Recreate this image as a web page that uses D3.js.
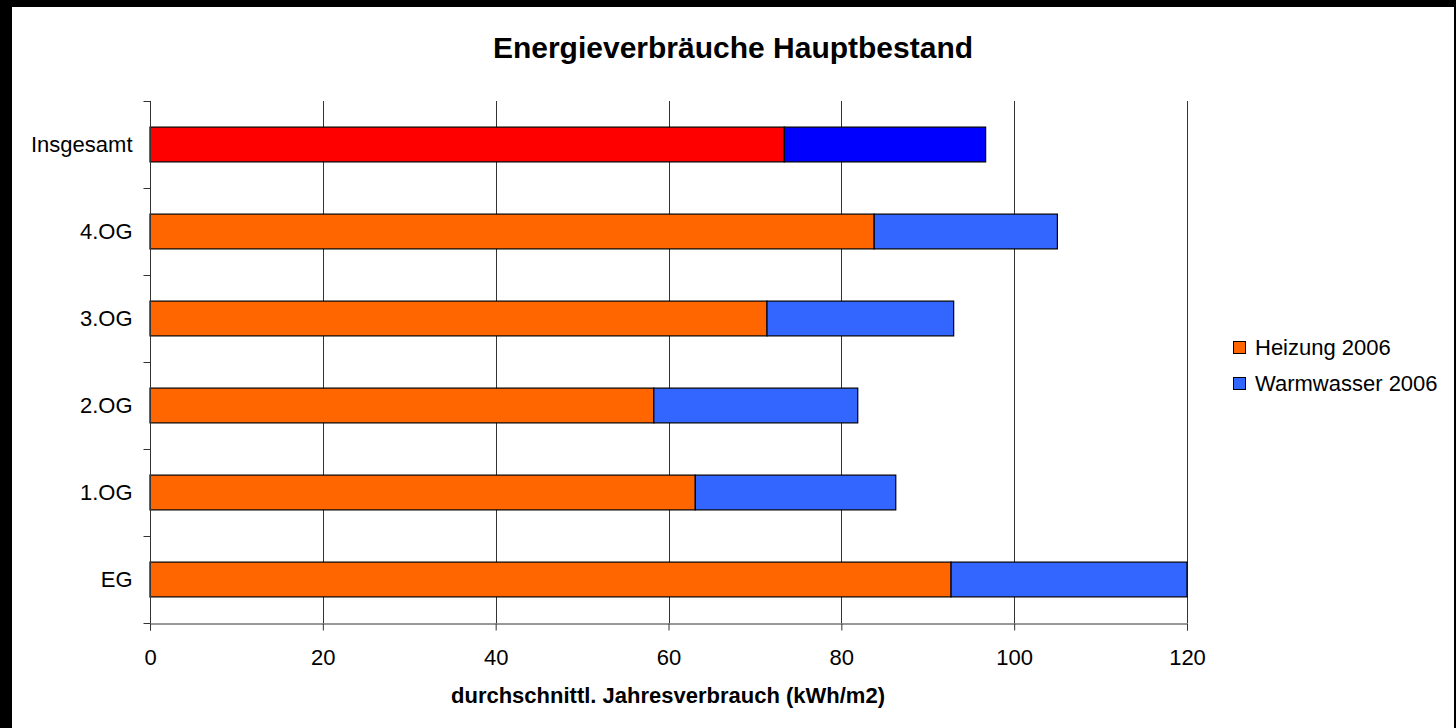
<!DOCTYPE html>
<html>
<head>
<meta charset="utf-8">
<script src="https://cdn.jsdelivr.net/npm/d3@7"></script>
<style>
  html, body { margin: 0; padding: 0; background: #000; }
  svg { display: block; }
  text { font-family: "Liberation Sans", Arial, sans-serif; fill: #000; }
</style>
</head>
<body>
<svg id="chart"></svg>
<script>
const categories = ['EG', '1.OG', '2.OG', '3.OG', '4.OG', 'Insgesamt'];
const heizung = [92.7, 63.1, 58.3, 71.4, 83.8, 73.4];
const warmwasser = [27.3, 23.2, 23.6, 21.6, 21.2, 23.3];
const xTicks = [0, 20, 40, 60, 80, 100, 120];
const seriesNames = ['Heizung 2006', 'Warmwasser 2006'];
const seriesColors = ['#FF6600', '#3366FF'];
const totalColors = ['#FF0000', '#0000FF'];

const W = 1456, H = 728;
const margin = { top: 101, right: 269, bottom: 105, left: 150 };
const width = W - margin.left - margin.right;
const height = H - margin.top - margin.bottom;

const svg = d3.select('#chart').attr('width', W).attr('height', H);

// white chart area inside black frame
svg.append('rect')
    .attr('x', 12).attr('y', 7)
    .attr('width', W - 14).attr('height', H - 7)
    .attr('fill', '#fff');

const g = svg.append('g').attr('transform', `translate(${margin.left},${margin.top})`);

const x = d3.scaleLinear().domain([0, 120]).range([0, width]);
const y = d3.scaleBand().domain(categories.slice().reverse()).range([0, height]).paddingInner(0.6).paddingOuter(0.3);

// gridlines
g.append('g')
    .selectAll('line')
    .data(xTicks.slice(1))
    .join('line')
    .attr('x1', d => Math.round(x(d)) + 0.5)
    .attr('x2', d => Math.round(x(d)) + 0.5)
    .attr('y1', 0).attr('y2', height)
    .attr('stroke', '#333').attr('stroke-width', 1);

const data = categories.map((c, i) => ({ name: c, h: heizung[i], w: warmwasser[i], total: c === 'Insgesamt' }));

const bars = g.append('g');
bars.selectAll('.heiz')
    .data(data)
    .join('rect')
    .attr('class', 'heiz')
    .attr('x', x(0))
    .attr('y', d => y(d.name))
    .attr('width', d => x(d.h) - x(0))
    .attr('height', y.bandwidth())
    .attr('fill', d => d.total ? totalColors[0] : seriesColors[0])
    .attr('stroke', '#000').attr('stroke-width', 1.2);

bars.selectAll('.ww')
    .data(data)
    .join('rect')
    .attr('class', 'ww')
    .attr('x', d => x(d.h))
    .attr('y', d => y(d.name))
    .attr('width', d => x(d.h + d.w) - x(d.h))
    .attr('height', y.bandwidth())
    .attr('fill', d => d.total ? totalColors[1] : seriesColors[1])
    .attr('stroke', '#000').attr('stroke-width', 1.2);

// x axis
const xAxis = g.append('g')
    .attr('transform', `translate(0,${height + 0.5})`)
    .call(d3.axisBottom(x).tickValues(xTicks).tickSize(7).tickPadding(19));
xAxis.select('.domain').attr('stroke', '#333');
xAxis.selectAll('.tick line').attr('stroke', '#333');
xAxis.selectAll('.tick text').attr('font-size', 22).attr('fill', '#000');

// y axis with ticks between categories
const yAxisG = g.append('g').attr('transform', 'translate(0.5,0)');
yAxisG.append('line')
    .attr('x1', 0).attr('x2', 0).attr('y1', 0).attr('y2', height)
    .attr('stroke', '#333');
const boundaries = d3.range(categories.length + 1).map(i => i * height / categories.length);
yAxisG.selectAll('.ytick')
    .data(boundaries)
    .join('line')
    .attr('x1', -7).attr('x2', 0)
    .attr('y1', d => Math.round(d) + 0.5).attr('y2', d => Math.round(d) + 0.5)
    .attr('stroke', '#333');
yAxisG.selectAll('.ylabel')
    .data(categories)
    .join('text')
    .attr('x', -18)
    .attr('y', d => y(d) + y.bandwidth() / 2)
    .attr('dy', '0.35em')
    .attr('text-anchor', 'end')
    .attr('font-size', 22)
    .text(d => d);

// titles
svg.append('text')
    .attr('x', 733).attr('y', 58)
    .attr('text-anchor', 'middle')
    .attr('font-size', 30).attr('font-weight', 'bold')
    .text('Energieverbräuche Hauptbestand');

svg.append('text')
    .attr('x', 668).attr('y', 703)
    .attr('text-anchor', 'middle')
    .attr('font-size', 22).attr('font-weight', 'bold')
    .text('durchschnittl. Jahresverbrauch (kWh/m2)');

// legend
const legend = svg.append('g').attr('transform', 'translate(1233,341)');
const li = legend.selectAll('g')
    .data(seriesNames)
    .join('g')
    .attr('transform', (d, i) => `translate(0,${i * 36})`);
li.append('rect')
    .attr('x', 0.5).attr('y', 0.5)
    .attr('width', 12).attr('height', 12)
    .attr('fill', (d, i) => seriesColors[i])
    .attr('stroke', '#000');
li.append('text')
    .attr('x', 22).attr('y', 6.5)
    .attr('dy', '0.35em')
    .attr('font-size', 22)
    .text(d => d);
</script>
</body>
</html>
